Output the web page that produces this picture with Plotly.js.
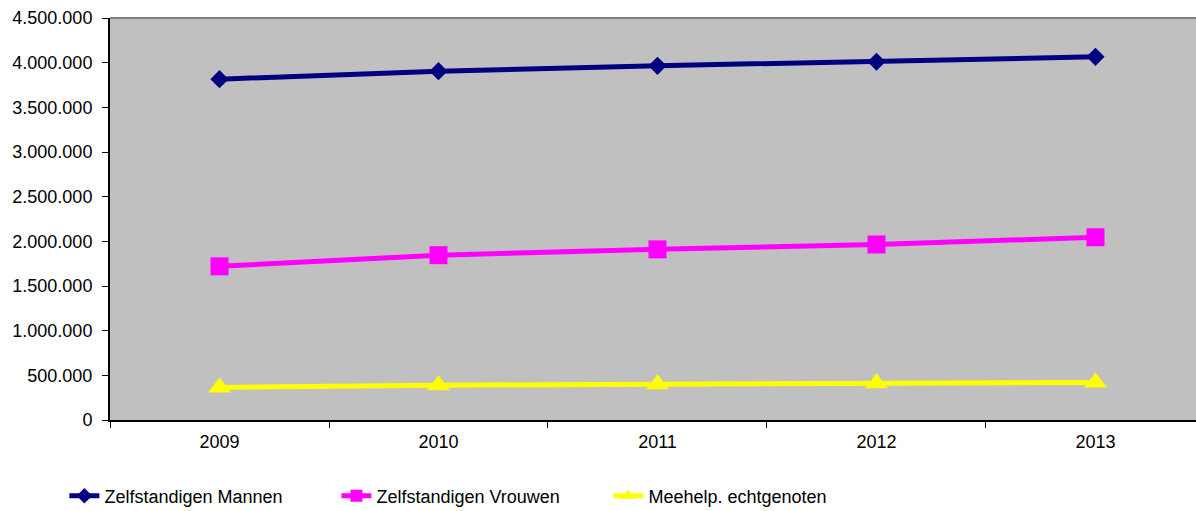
<!DOCTYPE html>
<html>
<head>
<meta charset="utf-8">
<script src="https://cdn.plot.ly/plotly-3.0.1.min.js"></script>
<style>
  body { margin: 0; background: #fff; }
  #the_plot { width: 1196px; height: 511px; }
</style>
</head>
<body>
<div id="the_plot"></div>
<script>
// years on the x axis
var years = ["2009", "2010", "2011", "2012", "2013"];

// values
var mannen = [3815000, 3905000, 3965000, 4010000, 4065000];
var vrouwen = [1720000, 1845000, 1910000, 1965000, 2045000];
var meehelp = [365000, 390000, 400000, 410000, 420000];

var yTicks = [0, 500000, 1000000, 1500000, 2000000, 2500000, 3000000, 3500000, 4000000, 4500000];

function serie(name, values, color, symbol, size) {
    return {
        x: years,
        y: values,
        name: name,
        type: "scatter",
        mode: "lines+markers",
        line: {color: color, width: 5},
        marker: {color: color, symbol: symbol, size: size}
    };
}

var data = [
    serie("Zelfstandigen Mannen", mannen, "#000080", "diamond", 14),
    serie("Zelfstandigen Vrouwen", vrouwen, "#FF00FF", "square", 18),
    serie("Meehelp. echtgenoten", meehelp, "#FFFF00", "triangle-up", 20)
];

var layout = {
    width: 1196,
    height: 511,
    margin: {l: 110, r: 0, t: 18, b: 91, autoexpand: false},
    paper_bgcolor: "#ffffff",
    plot_bgcolor: "#C0C0C0",
    separators: ",.",
    font: {family: "Arial, 'Liberation Sans', sans-serif", size: 18, color: "#000"},
    showlegend: true,
    legend: {
        orientation: "h",
        x: -0.042, xanchor: "left",
        y: -0.143, yanchor: "top",
        font: {size: 18},
        entrywidth: 227,
        entrywidthmode: "pixels",
        itemsizing: "constant",
        bgcolor: "rgba(0,0,0,0)"
    },
    xaxis: {
        type: "category",
        range: [-0.5, 4.459],
        showgrid: false,
        zeroline: false,
        showline: true,
        linecolor: "#000",
        linewidth: 2,
        ticks: "outside",
        tickson: "boundaries",
        ticklen: 6,
        tickcolor: "#000",
        tickwidth: 1,
        ticklabelstandoff: 4
    },
    yaxis: {
        range: [0, 4500000],
        tickvals: yTicks,
        tickformat: ",",
        showgrid: false,
        zeroline: false,
        showline: true,
        linecolor: "#000",
        linewidth: 2,
        ticks: "outside",
        ticklen: 6,
        tickcolor: "#000",
        tickwidth: 1,
        ticklabelstandoff: 6
    },
    shapes: [{
        type: "line", xref: "paper", yref: "paper",
        x0: 0, x1: 1, y0: 1, y1: 1,
        line: {color: "#808080", width: 2}
    }]
};

Plotly.newPlot("the_plot", data, layout, {displayModeBar: false, staticPlot: true});
</script>
</body>
</html>
